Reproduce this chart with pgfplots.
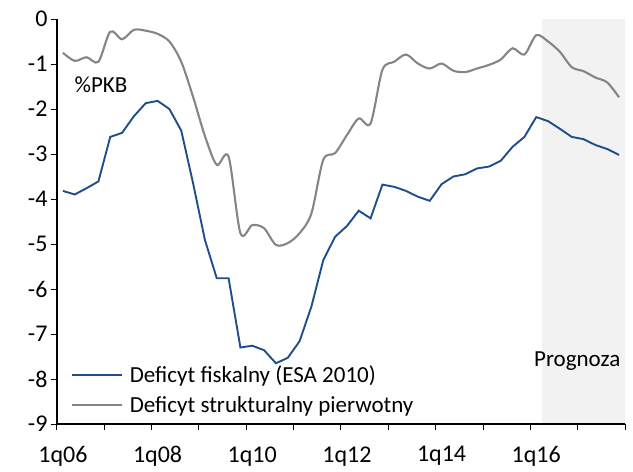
\documentclass[border=0pt]{standalone}
\usepackage{pgfplots}
\pgfplotsset{compat=1.18}
\usepackage{fontspec}
\setmainfont{Carlito}
\definecolor{ingblue}{HTML}{1F4E8C}
\definecolor{inggray}{HTML}{858585}
\definecolor{fcstgray}{HTML}{F2F2F2}
\begin{document}
\begin{tikzpicture}
\begin{axis}[
  scale only axis,
  width=568bp, height=405bp,
  xmin=-0.5, xmax=47.5,
  ymin=-9, ymax=0,
  axis lines*=left,
  axis line style={line width=1.2bp, black},
  every tick/.style={black, line width=1bp},
  tick align=outside,
  xtick={-0.5,3.5,...,47.5},
  xticklabels={},
  major tick length=6bp,
  extra x ticks={0,8,16,24,32,40},
  extra x tick labels={1q06,1q08,1q10,1q12,1q14,1q16},
  extra x tick style={major tick length=0pt, tick label style={yshift=-19bp}},
  ytick={0,-1,...,-9},
  /pgf/number format/assume math mode=true,
  tick label style={font=\fontsize{24bp}{28bp}\selectfont},
  clip=false,
  axis on top,
  legend style={at={(0.024,0.15)}, anchor=north west, draw=none, fill=none,
    font=\fontsize{23bp}{27bp}\selectfont, row sep=9bp, inner sep=0pt},
  legend cell align=left,
  legend image code/.code={\draw[#1, line width=2bp] (0bp,0bp) -- (50bp,0bp);\path[draw=none] (0bp,0bp) (56bp,0bp);},
]
\fill[fcstgray] (axis cs:40.5,-9) rectangle (axis cs:47.5,0);
\addplot[ingblue, line width=1.9bp, mark=none] coordinates {
(0,-3.82) (1,-3.90) (2,-3.76) (3,-3.61) (4,-2.62) (5,-2.53) (6,-2.16) (7,-1.87)
(8,-1.82) (9,-2.00) (10,-2.48) (11,-3.65) (12,-4.91) (13,-5.76) (14,-5.76) (15,-7.30)
(16,-7.26) (17,-7.36) (18,-7.65) (19,-7.53) (20,-7.16) (21,-6.39) (22,-5.36) (23,-4.84)
(24,-4.60) (25,-4.26) (26,-4.43) (27,-3.68) (28,-3.73) (29,-3.82) (30,-3.95) (31,-4.04)
(32,-3.67) (33,-3.50) (34,-3.45) (35,-3.32) (36,-3.28) (37,-3.15) (38,-2.84) (39,-2.62)
(40,-2.18) (41,-2.27) (42,-2.44) (43,-2.62) (44,-2.67) (45,-2.80) (46,-2.89) (47,-3.02)
};
\addlegendentry{Deficyt fiskalny (ESA 2010)}
\addplot[inggray, line width=2.1bp, mark=none, smooth, tension=0.5] coordinates {
(0,-0.75) (1,-0.93) (2,-0.85) (3,-0.95) (4,-0.28) (5,-0.45) (6,-0.24) (7,-0.26)
(8,-0.33) (9,-0.50) (10,-0.95) (11,-1.73) (12,-2.60) (13,-3.24) (14,-3.06) (15,-4.76)
(16,-4.58) (17,-4.65) (18,-5.02) (19,-4.98) (20,-4.76) (21,-4.32) (22,-3.13) (23,-2.98)
(24,-2.58) (25,-2.21) (26,-2.32) (27,-1.13) (28,-0.95) (29,-0.79) (30,-0.99) (31,-1.10)
(32,-0.99) (33,-1.15) (34,-1.18) (35,-1.10) (36,-1.02) (37,-0.90) (38,-0.65) (39,-0.79)
(40,-0.36) (41,-0.50) (42,-0.73) (43,-1.07) (44,-1.16) (45,-1.30) (46,-1.41) (47,-1.74)
};
\addlegendentry{Deficyt strukturalny pierwotny}
\node[font=\fontsize{23bp}{27bp}\selectfont] at (axis cs:3.22,-1.47) {\%PKB};
\node[font=\fontsize{23bp}{27bp}\selectfont] at (axis cs:43.46,-7.6) {Prognoza};
\path (rel axis cs:0,0) ++(-57bp,-48bp) rectangle ++(633bp,472bp);
\end{axis}
\end{tikzpicture}
\end{document}
